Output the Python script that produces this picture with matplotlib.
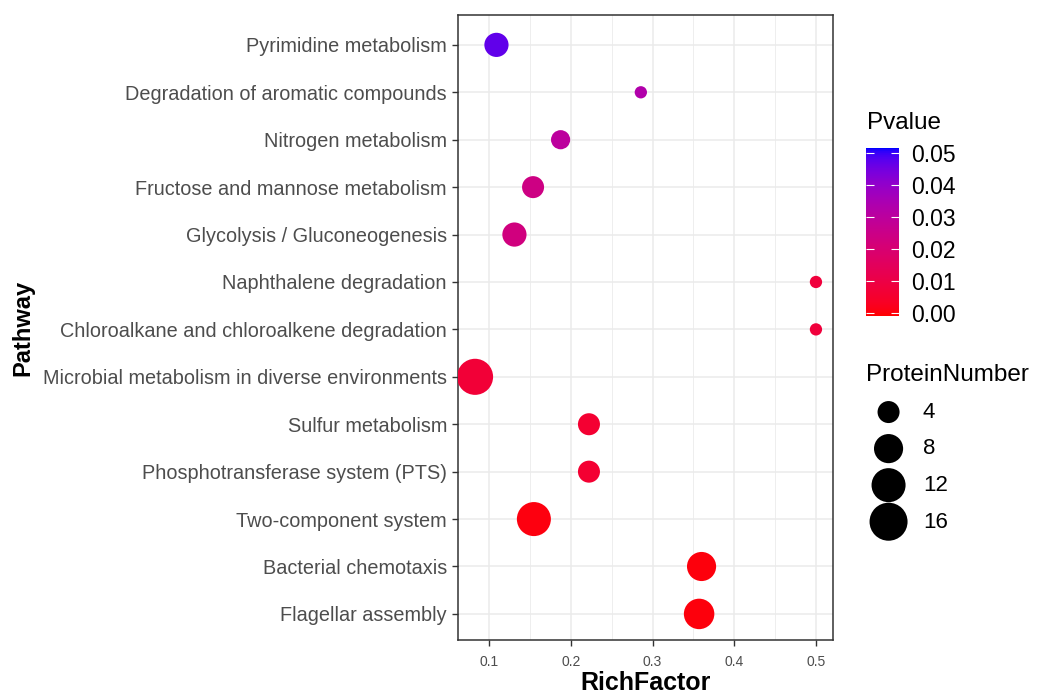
import numpy as np
import matplotlib
matplotlib.use("Agg")
import matplotlib.pyplot as plt
from matplotlib.colors import ListedColormap, Normalize
from matplotlib.ticker import MultipleLocator

plt.rcParams['font.family'] = ['Liberation Sans', 'DejaVu Sans']

# ---------------- data (top to bottom) ----------------
pathways = [
    "Pyrimidine metabolism",
    "Degradation of aromatic compounds",
    "Nitrogen metabolism",
    "Fructose and mannose metabolism",
    "Glycolysis / Gluconeogenesis",
    "Naphthalene degradation",
    "Chloroalkane and chloroalkene degradation",
    "Microbial metabolism in diverse environments",
    "Sulfur metabolism",
    "Phosphotransferase system (PTS)",
    "Two-component system",
    "Bacterial chemotaxis",
    "Flagellar assembly",
]
rich_factor = [0.109, 0.2857, 0.1875, 0.1538, 0.131, 0.5, 0.5, 0.0828,
               0.2222, 0.2222, 0.1548, 0.36, 0.357]
protein_number = [5, 2, 3, 4, 5, 2, 2, 14, 4, 4, 12, 8, 9]
pvalue = [0.047, 0.033, 0.030, 0.024, 0.023, 0.008, 0.008, 0.007,
          0.006, 0.006, 0.0005, 0.0002, 0.0003]
size_breaks = [4, 8, 12, 16]
pvalue_ticks = [0.00, 0.01, 0.02, 0.03, 0.04, 0.05]


# ---------------- Lab-interpolated red -> blue gradient ----------------
def _srgb_to_lin(c):
    c = np.asarray(c, float)
    return np.where(c <= 0.04045, c / 12.92, ((c + 0.055) / 1.055) ** 2.4)


def _lin_to_srgb(c):
    c = np.clip(c, 0, 1)
    return np.where(c <= 0.0031308, 12.92 * c, 1.055 * c ** (1 / 2.4) - 0.055)


M = np.array([[0.4124, 0.3576, 0.1805],
              [0.2126, 0.7152, 0.0722],
              [0.0193, 0.1192, 0.9505]])
WHITE = np.array([0.95047, 1.0, 1.08883])


def rgb_to_lab(rgb):
    xyz = M @ _srgb_to_lin(rgb) / WHITE
    f = np.where(xyz > 216 / 24389, np.cbrt(xyz), (24389 / 27 * xyz + 16) / 116)
    return np.array([116 * f[1] - 16, 500 * (f[0] - f[1]), 200 * (f[1] - f[2])])


def lab_to_rgb(lab):
    L, a, b = lab
    fy = (L + 16) / 116
    fx = fy + a / 500
    fz = fy - b / 200
    f = np.array([fx, fy, fz])
    xyz = np.where(f ** 3 > 216 / 24389, f ** 3, (116 * f - 16) / (24389 / 27)) * WHITE
    lin = np.linalg.inv(M) @ xyz
    return _lin_to_srgb(lin)


lab_lo = rgb_to_lab([1, 0, 0])
lab_hi = rgb_to_lab([0, 0, 1])
cols = [lab_to_rgb(lab_lo + t * (lab_hi - lab_lo)) for t in np.linspace(0, 1, 256)]
cmap = ListedColormap(np.clip(cols, 0, 1))
norm = Normalize(vmin=-0.0009, vmax=0.0516)


def size_fn(n):
    n = np.maximum(np.asarray(n, float), 2)
    d_px = 12.3 + 6.87 * np.sqrt(n - 2)
    return (d_px * 0.72) ** 2


# ---------------- figure ----------------
fig = plt.figure(figsize=(10.37, 6.93), dpi=100)
ax = fig.add_axes([458 / 1037, 1 - 640 / 693, (833 - 458) / 1037, (640 - 15) / 693])

sc = ax.scatter(rich_factor, pathways, s=size_fn(protein_number), c=pvalue,
                cmap=cmap, norm=norm, edgecolors='none', zorder=3)

ax.set_ylim(len(pathways) - 1 + 0.55, -0.63)
ax.margins(x=0.05)
ax.xaxis.set_major_locator(MultipleLocator(0.1))
ax.xaxis.set_minor_locator(MultipleLocator(0.05))
ax.set_axisbelow(True)
ax.grid(which='major', color='#EBEBEB', linewidth=1.1)
ax.grid(which='minor', axis='x', color='#EBEBEB', linewidth=0.6)
for sp in ax.spines.values():
    sp.set_color('#333333')
    sp.set_linewidth(1.1)
ax.tick_params(axis='both', which='major', color='#333333', length=4, width=1)
ax.tick_params(axis='x', which='minor', length=0)
ax.tick_params(axis='y', labelsize=14.3, labelcolor='#4D4D4D', pad=4)
ax.tick_params(axis='x', labelsize=10, labelcolor='#4D4D4D', pad=7)
ax.set_xticks([0.1, 0.2, 0.3, 0.4, 0.5])
ax.set_xticklabels(['0.1', '0.2', '0.3', '0.4', '0.5'])
ax.set_xlabel('RichFactor', fontsize=18, fontweight='bold', labelpad=1)
ax.set_ylabel('Pathway', fontsize=17, fontweight='bold', labelpad=6)

# ---------------- colourbar legend ----------------
fig.text(867 / 1037, 1 - 123 / 693, 'Pvalue', fontsize=17.5, va='center', ha='left')
cax = fig.add_axes([866 / 1037, 1 - 316 / 693, 33 / 1037, (316 - 148) / 693])
cbar = fig.colorbar(sc, cax=cax, ticks=pvalue_ticks)
cbar.outline.set_visible(False)
cbar.ax.set_yticklabels([f'{v:.2f}' for v in pvalue_ticks])
cax.yaxis.set_ticks_position('both')
cax.tick_params(axis='y', direction='in', color='white', length=6, width=0.8,
                labelsize=16.5, labelcolor='black', pad=9, left=True, right=True,
                labelleft=False, labelright=True)

# ---------------- size legend ----------------
handles = [ax.scatter([], [], s=size_fn(n), c='black', edgecolors='none') for n in size_breaks]
leg = fig.legend(handles, [str(n) for n in size_breaks], title='ProteinNumber',
                 loc='upper left', bbox_to_anchor=(853 / 1037, 1 - 351 / 693),
                 frameon=False, fontsize=16, title_fontsize=17.5,
                 labelspacing=0.7, handletextpad=0.55, borderpad=0.1,
                 alignment='left', scatterpoints=1)

fig.savefig('out.png', dpi=100)
